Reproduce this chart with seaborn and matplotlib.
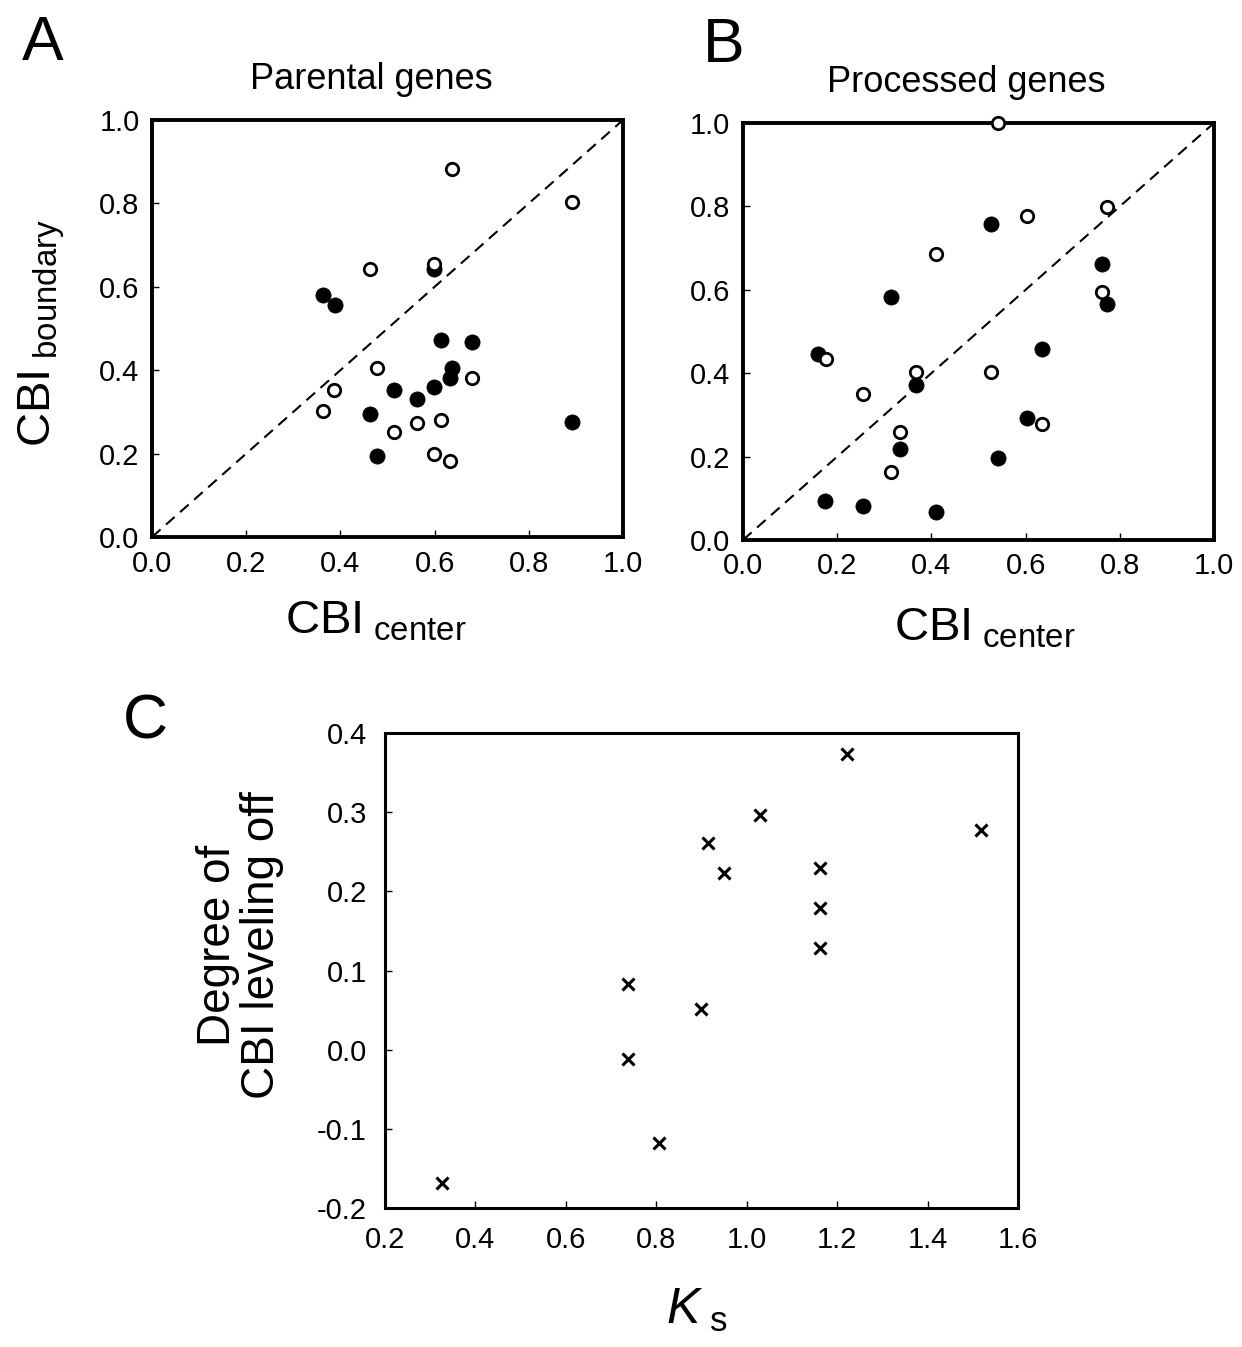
import matplotlib
matplotlib.use('Agg')
import matplotlib.pyplot as plt
import seaborn as sns
import pandas as pd

# ---- data ----
# A: parental genes (CBI center, CBI boundary)
a_open_x = [0.636, 0.891, 0.463, 0.598, 0.477, 0.387, 0.363, 0.680, 0.562, 0.613, 0.513, 0.598, 0.632]
a_open_y = [0.882, 0.803, 0.643, 0.655, 0.405, 0.353, 0.303, 0.382, 0.274, 0.280, 0.251, 0.200, 0.183]
a_fill_x = [0.363, 0.388, 0.598, 0.613, 0.680, 0.638, 0.632, 0.598, 0.562, 0.514, 0.463, 0.477, 0.891]
a_fill_y = [0.581, 0.557, 0.642, 0.473, 0.468, 0.405, 0.381, 0.360, 0.331, 0.353, 0.296, 0.194, 0.275]

# B: processed genes
b_open_x = [0.541, 0.602, 0.772, 0.409, 0.763, 0.176, 0.367, 0.527, 0.254, 0.635, 0.334, 0.315]
b_open_y = [1.000, 0.776, 0.799, 0.685, 0.594, 0.435, 0.402, 0.402, 0.350, 0.277, 0.259, 0.163]
b_fill_x = [0.527, 0.315, 0.762, 0.772, 0.159, 0.635, 0.367, 0.602, 0.334, 0.541, 0.175, 0.254, 0.409]
b_fill_y = [0.758, 0.582, 0.662, 0.565, 0.447, 0.458, 0.372, 0.293, 0.219, 0.196, 0.094, 0.082, 0.066]

# C: Ks vs degree of CBI leveling off
c_ks = [0.325, 0.738, 0.738, 0.807, 0.899, 0.915, 0.950, 1.030, 1.163, 1.163, 1.163, 1.222, 1.518]
c_level = [-0.168, 0.083, -0.012, -0.118, 0.052, 0.261, 0.223, 0.296, 0.230, 0.179, 0.128, 0.373, 0.278]

diag = [0.0, 1.0]
ab_ticks = [0.0, 0.2, 0.4, 0.6, 0.8, 1.0]
c_xticks = [0.2, 0.4, 0.6, 0.8, 1.0, 1.2, 1.4, 1.6]
c_yticks = [-0.2, -0.1, 0.0, 0.1, 0.2, 0.3, 0.4]

sns.set_style('ticks')
plt.rcParams['font.family'] = ['Liberation Sans', 'DejaVu Sans']
plt.rcParams['mathtext.fontset'] = 'custom'
plt.rcParams['mathtext.rm'] = 'Liberation Sans'
plt.rcParams['mathtext.it'] = 'Liberation Sans:italic'
for k in ['text.color', 'axes.labelcolor', 'xtick.color', 'ytick.color',
          'xtick.labelcolor', 'ytick.labelcolor']:
    plt.rcParams[k] = 'black'

W, H = 1242, 1347
fig = plt.figure(figsize=(W / 100, H / 100), dpi=100)


def box(left, top, right, bottom):
    return [left / W, 1 - bottom / H, (right - left) / W, (bottom - top) / H]


def ftext(x, y, s, **kw):
    fig.text(x / W, 1 - y / H, s, color='black', **kw)


def style_axes(ax, lw, tick_size, pad):
    for sp in ax.spines.values():
        sp.set_visible(True)
        sp.set_linewidth(lw)
        sp.set_color('black')
    ax.tick_params(direction='in', length=5, width=1.0, labelsize=tick_size,
                   pad=pad, top=False, right=False, colors='black',
                   labelcolor='black')
    ax.set_xlabel('')
    ax.set_ylabel('')


def cbi_panel(ax, ox, oy, fx, fy):
    ax.plot(diag, diag, color='black', lw=1.5, ls=(0, (5.5, 3.5)), zorder=1)
    sns.scatterplot(x=fx, y=fy, ax=ax, color='black', s=120, edgecolor='black',
                    linewidth=0.5, zorder=3, clip_on=False)
    sns.scatterplot(x=ox, y=oy, ax=ax, color='white', s=80, edgecolor='black',
                    linewidth=2.0, zorder=4, clip_on=False)
    ax.set_xlim(0, 1)
    ax.set_ylim(0, 1)
    ax.set_xticks(ab_ticks)
    ax.set_yticks(ab_ticks)
    ax.set_xticklabels([f'{t:.1f}' for t in ab_ticks])
    ax.set_yticklabels([f'{t:.1f}' for t in ab_ticks])
    style_axes(ax, 2.8, 21, 9)


# ---- panel A ----
ax_a = fig.add_axes(box(152, 120, 623, 537))
cbi_panel(ax_a, a_open_x, a_open_y, a_fill_x, a_fill_y)

# ---- panel B ----
ax_b = fig.add_axes(box(743, 123, 1214, 540))
cbi_panel(ax_b, b_open_x, b_open_y, b_fill_x, b_fill_y)

# ---- panel C ----
ax_c = fig.add_axes(box(385, 733, 1018, 1208))
sns.scatterplot(x=c_ks, y=c_level, ax=ax_c, marker='x', color='black', s=75,
                linewidth=2.2)
ax_c.set_xlim(0.2, 1.6)
ax_c.set_ylim(-0.2, 0.4)
ax_c.set_xticks(c_xticks)
ax_c.set_yticks(c_yticks)
ax_c.set_xticklabels([f'{t:.1f}' for t in c_xticks])
ax_c.set_yticklabels([f'{t:.1f}' for t in c_yticks])
style_axes(ax_c, 2.2, 21, 13)

# ---- texts ----
ftext(22, 60, 'A', fontsize=45, ha='left', va='baseline')
ftext(703, 62, 'B', fontsize=45, ha='left', va='baseline')
ftext(123, 739, 'C', fontsize=45, ha='left', va='baseline')

ftext(371, 89, 'Parental genes', fontsize=26, ha='center', va='baseline')
ftext(966, 92, 'Processed genes', fontsize=26, ha='center', va='baseline')

ftext(42, 333, r'CBI$_{\ \mathregular{boundary}}$', fontsize=34, rotation=90,
      ha='center', va='center')
ftext(376, 622, r'CBI$_{\ \mathregular{center}}$', fontsize=34, ha='center', va='center')
ftext(985, 628, r'CBI$_{\ \mathregular{center}}$', fontsize=34, ha='center', va='center')

ftext(240, 945, 'Degree of\nCBI leveling off', fontsize=33, rotation=90,
      ha='center', va='center', multialignment='center', linespacing=1.0)
ftext(697, 1310, r'$\mathit{K}_{\ \mathregular{s}}$', fontsize=36, ha='center', va='center')

fig.savefig('out.png', dpi=100)
